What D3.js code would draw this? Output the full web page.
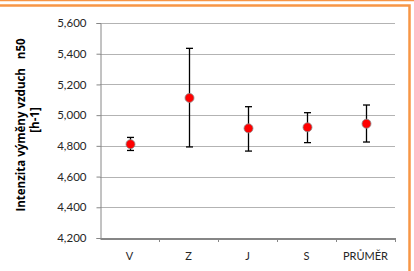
<!DOCTYPE html>
<html>
<head>
<meta charset="utf-8">
<script src="https://cdn.jsdelivr.net/npm/d3@7"></script>
<style>
body { margin: 0; background: #fff; }
svg text { font-family: Lato, "Open Sans", sans-serif; fill: #262626; }
.title { font-family: "Open Sans", sans-serif; font-weight: bold; font-size: 11.5px; fill: #000; }
</style>
</head>
<body>
<svg id="chart" width="414" height="271"></svg>
<script>
var categories = ["V", "Z", "J", "S", "PRŮMĚR"];
var means = [4811, 5112, 4914, 4921, 4944];
var upper = [4855, 5435, 5055, 5016, 5066];
var lower = [4770, 4793, 4766, 4821, 4825];
var yTicks = [4200, 4400, 4600, 4800, 5000, 5200, 5400, 5600];

var svg = d3.select("#chart");

// orange frame
svg.append("line").attr("x1", 0).attr("x2", 414).attr("y1", 0.5).attr("y2", 0.5)
   .attr("stroke", "#f79646").attr("stroke-width", 1.5);
svg.append("path").attr("d", "M0,5.5 H409.5 V271")
   .attr("fill", "none").attr("stroke", "#f79646").attr("stroke-width", 2.5);

var plotLeft = 100, plotRight = 395, plotTop = 23, plotBottom = 238;

var y = d3.scaleLinear().domain([4200, 5600]).range([plotBottom, plotTop]);
var x = d3.scaleBand().domain(categories).range([plotLeft, plotRight]);

var fmt = d3.format(",");

// gridlines
svg.append("g")
   .selectAll("line")
   .data(yTicks.slice(1))
   .enter().append("line")
   .attr("x1", plotLeft).attr("x2", plotRight)
   .attr("y1", function(d){return Math.round(y(d)) + 0.5;})
   .attr("y2", function(d){return Math.round(y(d)) + 0.5;})
   .attr("stroke", "#b3b3b3").attr("stroke-width", 1.2);

// y axis
var yAxis = svg.append("g")
   .attr("transform", "translate(" + (plotLeft + 0.5) + ",0)")
   .call(d3.axisLeft(y).tickValues(yTicks).tickSize(4).tickPadding(10).tickFormat(fmt));
yAxis.selectAll("line").attr("stroke", "#868686");
yAxis.select(".domain").attr("stroke", "#868686");
yAxis.selectAll("text").attr("font-size", 11.5).attr("fill", "#262626")
   .attr("font-family", "Lato, 'Open Sans', sans-serif");

// x axis
var xAxis = svg.append("g")
   .attr("transform", "translate(0," + (plotBottom + 0.5) + ")")
   .call(d3.axisBottom(x).tickSize(0).tickPadding(14));
xAxis.select(".domain").attr("stroke", "#868686").attr("stroke-width", 2);
xAxis.selectAll("text").attr("font-size", 11).attr("fill", "#262626")
   .attr("font-family", "Lato, 'Open Sans', sans-serif");
// tick marks at band boundaries
svg.append("g")
   .selectAll("line")
   .data(categories)
   .enter().append("line")
   .attr("x1", function(d){return Math.round(x(d) + x.bandwidth()) + 0.5;})
   .attr("x2", function(d){return Math.round(x(d) + x.bandwidth()) + 0.5;})
   .attr("y1", plotBottom).attr("y2", plotBottom + 4)
   .attr("stroke", "#868686");

// error bars
var cx = function(i){return x(categories[i]) + x.bandwidth() / 2;};
var bars = svg.append("g").attr("stroke", "#000").attr("stroke-width", 1.3);
means.forEach(function(m, i){
	var c = Math.round(cx(i)) + 0.5;
	bars.append("line").attr("x1", c).attr("x2", c).attr("y1", y(upper[i])).attr("y2", y(lower[i]));
	bars.append("line").attr("x1", c - 3.5).attr("x2", c + 3.5).attr("y1", y(upper[i])).attr("y2", y(upper[i]));
	bars.append("line").attr("x1", c - 3.5).attr("x2", c + 3.5).attr("y1", y(lower[i])).attr("y2", y(lower[i]));
});

// points
svg.append("g")
   .selectAll("circle")
   .data(means)
   .enter().append("circle")
   .attr("cx", function(d, i){return Math.round(cx(i)) + 0.5;})
   .attr("cy", function(d){return y(d);})
   .attr("r", 4.5)
   .attr("fill", "#ff0000")
   .attr("stroke", "#8c8c8c").attr("stroke-width", 0.8);

// y axis title
svg.append("text").attr("class", "title")
   .attr("transform", "translate(25,125) rotate(-90)")
   .attr("text-anchor", "middle")
   .attr("xml:space", "preserve")
   .text("Intenzita výměny vzduch   n50");
svg.append("text").attr("class", "title")
   .attr("transform", "translate(39,120) rotate(-90)")
   .attr("text-anchor", "middle")
   .text("[h-1]");
</script>
</body>
</html>
